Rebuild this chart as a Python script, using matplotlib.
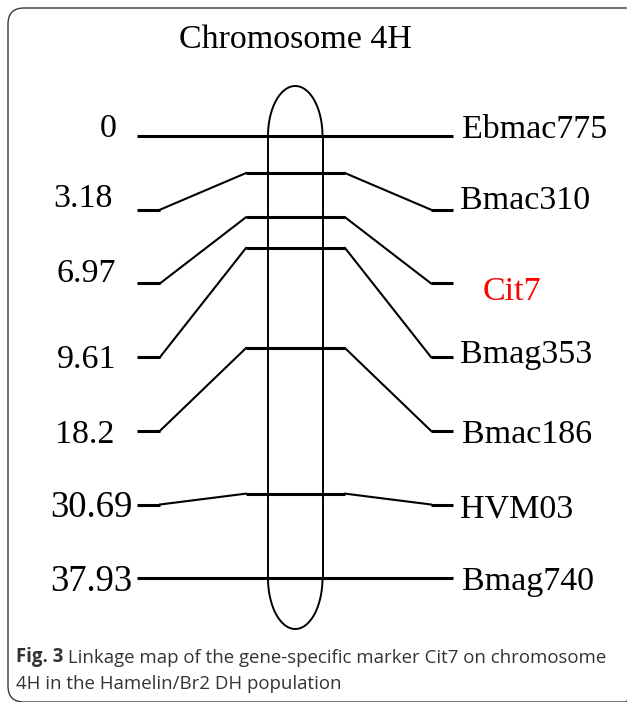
import numpy as np
import matplotlib
matplotlib.use("Agg")
import matplotlib.pyplot as plt
from matplotlib.patches import FancyBboxPatch

# marker data (cM positions on chromosome 4H)
markers = ["Ebmac775", "Bmac310", "Cit7", "Bmag353", "Bmac186", "HVM03", "Bmag740"]
positions_cm = [0, 3.18, 6.97, 9.61, 18.2, 30.69, 37.93]
position_labels = ["0", "3.18", "6.97", "9.61", "18.2", "30.69", "37.93"]
highlight = "Cit7"
title = "Chromosome 4H"
caption_bold = "Fig. 3"
caption_rest = (" Linkage map of the gene-specific marker Cit7 on chromosome\n"
                "4H in the Hamelin/Br2 DH population")

# layout (pixel space, y down)
W, H = 627, 702
CHR_TOP, CHR_BOT = 136, 578
CHR_L, CHR_R = 268, 322.5
ROW_TOP, ROW_STEP = 136, 73.7
X0, X1 = 137, 453            # outer ends of marker lines
XL1, XL2 = 160, 246          # left flat end, left knee
XR2, XR1 = 345, 431          # right knee, right flat start
left_label_x = [108, 83, 86, 87, 85, 91, 91]
left_label_y = [126, 196, 271, 357, 432, 506, 580]
left_label_fs = [24.5, 24.5, 24.5, 24.5, 24.5, 26.5, 26.5]
right_label_x = [462, 460, 483, 460, 462, 460, 462]
right_label_y = [127, 198, 289, 352, 432, 507, 579]
SERIF = "Liberation Serif"
FS = 24.5
CAP_FS = 13.4

fig = plt.figure(figsize=(W / 100, H / 100), dpi=100)
ax = fig.add_axes([0, 0, 1, 1])
ax.set_xlim(0, W)
ax.set_ylim(H, 0)
ax.axis("off")

# rounded frame: top-left, top edge and left side; right side runs off the picture
frame = FancyBboxPatch((8, 8), 634, 694, boxstyle="round,pad=0,rounding_size=16",
                       fill=False, edgecolor="#3a3a3a", linewidth=1.0, clip_on=True)
frame.set_clip_box(ax.bbox)
ax.add_patch(frame)

ax.text((CHR_L + CHR_R) / 2, 40, title, family=SERIF, fontsize=FS,
        ha="center", va="center")

# chromosome outline
cm_max = max(positions_cm)
def chr_y(cm):
    return CHR_TOP + (CHR_BOT - CHR_TOP) * cm / cm_max

cx = (CHR_L + CHR_R) / 2
hw = (CHR_R - CHR_L) / 2
t = np.linspace(-np.pi / 2, np.pi / 2, 60)
ax.plot([CHR_L, CHR_L], [CHR_TOP, CHR_BOT], color="black", lw=1.4)
ax.plot([CHR_R, CHR_R], [CHR_TOP, CHR_BOT], color="black", lw=1.4)
ax.plot(cx + hw * np.sin(t), CHR_TOP - 50 * np.cos(t), color="black", lw=1.4)
ax.plot(cx + hw * np.sin(t), CHR_BOT + 51 * np.cos(t), color="black", lw=1.4)

for i, (name, cm, lab) in enumerate(zip(markers, positions_cm, position_labels)):
    yr = ROW_TOP + i * ROW_STEP
    yc = chr_y(cm)
    if abs(yr - yc) < 3:
        ax.plot([X0, X1], [yc, yc], color="black", lw=2.2, solid_capstyle="butt")
    else:
        ax.plot([X0, XL1], [yr, yr], color="black", lw=2.2, solid_capstyle="butt")
        ax.plot([XL1, XL2], [yr, yc], color="black", lw=1.5)
        ax.plot([XL2, XR2], [yc, yc], color="black", lw=2.2, solid_capstyle="butt")
        ax.plot([XR2, XR1], [yc, yr], color="black", lw=1.5)
        ax.plot([XR1, X1], [yr, yr], color="black", lw=2.2, solid_capstyle="butt")

    ax.text(left_label_x[i], left_label_y[i] + 11, lab, family=SERIF,
            fontsize=left_label_fs[i], ha="center", va="baseline")
    color = "#ff0000" if name == highlight else "black"
    ax.text(right_label_x[i], right_label_y[i] + 11, name, family=SERIF,
            fontsize=FS, ha="left", va="baseline", color=color)

# caption
cap_color = "#333333"
t1 = ax.text(16, 662, caption_bold, family="Open Sans", fontsize=CAP_FS,
             fontweight="bold", color=cap_color, ha="left", va="baseline")
lines = caption_rest.split("\n")
ax.annotate(lines[0], xy=(1, 0), xycoords=t1, family="Open Sans", fontsize=CAP_FS,
            color=cap_color, ha="left", va="bottom")
ax.text(16, 689, lines[1], family="Open Sans", fontsize=CAP_FS,
        color=cap_color, ha="left", va="baseline")

fig.savefig("out.png", dpi=100)
